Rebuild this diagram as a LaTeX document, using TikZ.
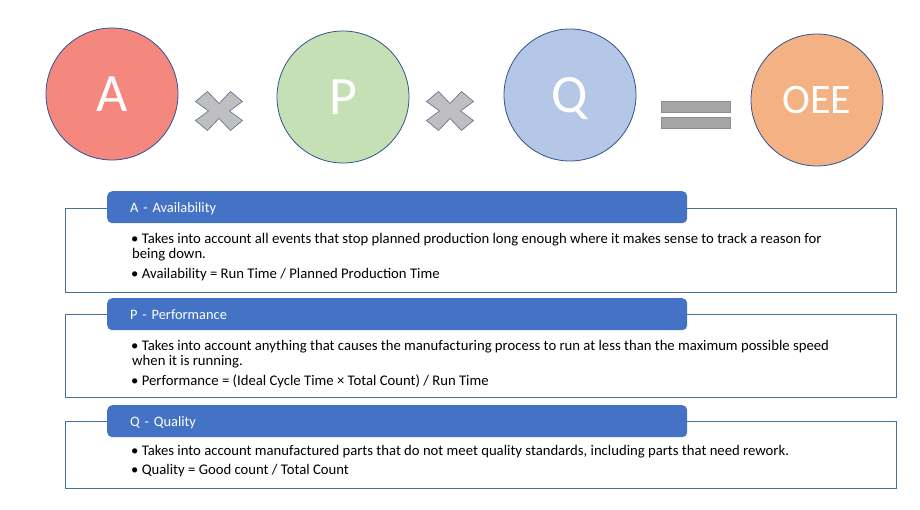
\documentclass[tikz,border=0pt]{standalone}
\usepackage{fontspec}
\setmainfont{Carlito}
\usetikzlibrary{positioning}
\definecolor{availRed}{HTML}{F4877E}
\definecolor{perfGreen}{HTML}{C5E0B4}
\definecolor{qualBlue}{HTML}{B4C7E7}
\definecolor{oeeOrange}{HTML}{F4B183}
\definecolor{circEdge}{HTML}{2F528F}
\definecolor{hdrBlue}{HTML}{4472C4}
\definecolor{frameBlue}{HTML}{41719C}
\definecolor{opGray}{HTML}{BFBFBF}
\definecolor{opEdge}{HTML}{5B6C8E}
\definecolor{eqGray}{HTML}{A6A6A6}
\tikzset{
  factor/.style={circle,draw=circEdge,line width=0.8pt,minimum size=132pt,inner sep=0pt,text=white,font=\fontsize{54}{54}\selectfont},
  hdr/.style={rounded corners=5pt,fill=hdrBlue,text=white,anchor=north west,minimum height=32pt,text width=534pt,inner xsep=23pt,text height=11pt,text depth=1pt,align=left,font=\fontsize{14.4}{15}\selectfont},
  item/.style={anchor=base west,align=left,inner sep=0pt,font=\fontsize{14.7}{15}\selectfont},
  listframe/.style={draw=frameBlue,line width=0.8pt},
  opmark/.style={fill=opGray,draw=opEdge,line width=0.6pt},
  eqbar/.style={fill=eqGray,draw=eqGray!85!black,line width=0.4pt},
}
\newcommand\timesmark{(-11.5,-19.5) -- (0,-7.5) -- (11.5,-19.5) -- (23.5,-9.5) -- (10.5,0) -- (23.5,9.5) -- (11.5,19.5) -- (0,7.5) -- (-11.5,19.5) -- (-23.5,9.5) -- (-10.5,0) -- (-23.5,-9.5) -- cycle}

\begin{document}
\begin{tikzpicture}[x=1pt,y=-1pt]
  \useasboundingbox (0,0) rectangle (920,510);
  % formula row
  \node[factor,fill=availRed] (avail) at (112,94) {A};
  \node[factor,fill=perfGreen] (perf) at (343,97) {P};
  \node[factor,fill=qualBlue,text depth=0pt] (qual) at (570,95) {Q};
  \node[factor,fill=oeeOrange,font=\fontsize{42}{42}\selectfont] (oee) at (817,100) {OEE};
  \draw[opmark,shift={(219,111)}] \timesmark;
  \draw[opmark,shift={(450,111)}] \timesmark;
  \draw[eqbar] (661,101) rectangle (730,112);
  \draw[eqbar] (661,117) rectangle (730,128);
  % list frames
  \draw[listframe] (65,208) rectangle (896,292);
  \draw[listframe] (65,314) rectangle (896,397);
  \draw[listframe] (65,421) rectangle (896,488);
  % headers
  \node[hdr] (hA) at (107,191) {A - Availability};
  \node[hdr] (hP) at (107,298) {P - Performance};
  \node[hdr] (hQ) at (107,405) {Q - Quality};
  % bullet texts (base = last line)
  \node[item] (a1) at (131,259) {• Takes into account all events that stop planned production long enough where it makes sense to track a reason for\\\hspace{1pt}being down.};
  \node[item] (a2) at (131,279) {• Availability = Run Time / Planned Production Time};
  \node[item] (p1) at (131,365) {• Takes into account anything that causes the manufacturing process to run at less than the maximum possible speed\\\hspace{1pt}when it is running.};
  \node[item] (p2) at (131,385) {• Performance = (Ideal Cycle Time × Total Count) / Run Time};
  \node[item] (q1) at (131,455) {• Takes into account manufactured parts that do not meet quality standards, including parts that need rework.};
  \node[item] (q2) at (131,474) {• Quality = Good count / Total Count};
\end{tikzpicture}
\end{document}
